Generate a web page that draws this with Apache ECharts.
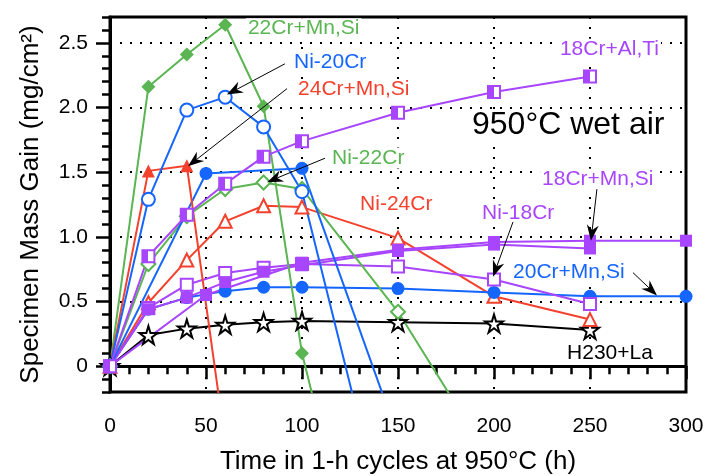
<!DOCTYPE html>
<html>
<head>
<meta charset="utf-8">
<script src="https://cdn.jsdelivr.net/npm/echarts@6/dist/echarts.min.js"></script>
<style>
  html, body { margin: 0; padding: 0; background: #fff; }
  #massChart { width: 707px; height: 476px; }
</style>
</head>
<body>
<div id="massChart"></div>
<script>
// [time (h), mass gain (mg/cm2)]; last points of the
// steep drop-offs lie below the axis and are clipped
const cr22MnSi = [[0, 0], [20, 2.16], [40, 2.41], [60, 2.64], [80, 2.01], [100, 0.10], [120, -1.1]]
const ni20Cr = [[0, 0], [20, 1.29], [40, 1.98], [60, 2.08], [80, 1.85], [100, 1.35], [150, -1.63]]
const cr24MnSi = [[0, 0], [20, 1.51], [40, 1.55], [60, -0.59]]
const ni22Cr = [[0, 0], [20, 0.79], [40, 1.16], [60, 1.37], [80, 1.42], [100, 1.37], [150, 0.42], [200, -0.77]]
const ni24Cr = [[0, 0], [20, 0.49], [40, 0.82], [60, 1.12], [80, 1.24], [100, 1.23], [150, 0.99], [200, 0.54], [250, 0.36]]
const cr18AlTi = [[0, 0], [20, 0.85], [40, 1.17], [60, 1.41], [80, 1.62], [100, 1.74], [150, 1.96], [200, 2.12], [250, 2.24]]
const cr18MnSi = [[0, 0], [20, 0.44], [40, 0.53], [60, 0.65], [80, 0.73], [100, 0.78], [150, 0.89], [200, 0.94], [250, 0.91]]
const cr18MnSiB = [[0, 0], [50, 0.55], [100, 0.80], [150, 0.90], [200, 0.96], [250, 0.97], [300, 0.97]]
const ni18Cr = [[0, 0], [20, 0.45], [40, 0.63], [60, 0.72], [80, 0.76], [100, 0.79], [150, 0.77], [200, 0.67], [250, 0.48]]
const cr20MnSiB = [[0, 0], [50, 1.49], [100, 1.53], [150, -0.55]]
const cr20MnSi = [[0, 0], [20, 0.44], [40, 0.53], [60, 0.58], [80, 0.61], [100, 0.61], [150, 0.60], [200, 0.57], [250, 0.54], [300, 0.54]]
const h230La = [[0, 0], [20, 0.24], [40, 0.29], [60, 0.32], [80, 0.34], [100, 0.35], [150, 0.34], [200, 0.33], [250, 0.28]]

const yTickValues = [0, 0.5, 1.0, 1.5, 2.0, 2.5]

const GREEN = '#5ab552'
const RED = '#f4412d'
const BLUE = '#1565ff'
const PURPLE = '#a845ff'
const FONT = '"Liberation Sans", Arial, sans-serif'
const STAR = 'path://M50,0 L61,35 L98,35 L68,57 L79,91 L50,70 L21,91 L32,57 L2,35 L39,35 Z'

const halfFill = {
  type: 'linear', x: 0, y: 0, x2: 1, y2: 0,
  colorStops: [
    { offset: 0, color: PURPLE }, { offset: 0.5, color: PURPLE },
    { offset: 0.5, color: '#fff' }, { offset: 1, color: '#fff' }
  ]
}

function mkSeries (name, data, color, symbol, size, fill) {
  return {
    name: name,
    type: 'line',
    data: data,
    symbol: symbol,
    symbolSize: size,
    clip: true,
    lineStyle: { color: color, width: 2 },
    itemStyle: { color: fill || color, borderColor: color, borderWidth: fill ? 2 : 0 },
    emphasis: { disabled: true }
  }
}

let chart = echarts.init(document.getElementById('massChart'))

let options = {
  animation: false,
  textStyle: { fontFamily: FONT },
  grid: {
    left: 110, right: 21, top: 17, bottom: 84,
    outerBoundsMode: 'none',
    show: true, borderColor: '#000', borderWidth: 3
  },
  xAxis: {
    type: 'value',
    min: 0,
    max: 300,
    interval: 50,
    name: 'Time in 1-h cycles at 950°C (h)',
    nameLocation: 'middle',
    nameGap: 57,
    nameTextStyle: { fontSize: 26, color: '#000' },
    axisLine: { lineStyle: { color: '#000', width: 3 } },
    axisTick: { length: 13, lineStyle: { color: '#000', width: 2.5 } },
    minorTick: { show: true, splitNumber: 5, length: 8, lineStyle: { color: '#000', width: 2.5 } },
    axisLabel: { fontSize: 21, color: '#000', margin: 24 },
    splitLine: { show: true, lineStyle: { color: '#000', width: 2, type: [2, 8] } }
  },
  yAxis: [
    {
      type: 'value',
      min: -0.2,
      max: 2.7,
      interval: 0.1,
      axisLine: { show: true, lineStyle: { color: '#000', width: 3 } },
      axisTick: { length: 8, lineStyle: { color: '#000', width: 2.5 } },
      axisLabel: { show: false },
      splitLine: { show: false }
    },
    {
      type: 'value',
      position: 'left',
      min: -0.2,
      max: 2.7,
      name: 'Specimen Mass Gain (mg/cm²)',
      nameLocation: 'middle',
      nameGap: 66,
      nameTextStyle: { fontSize: 26, color: '#000' },
      axisLine: { show: false },
      axisTick: { show: true, length: 14, customValues: yTickValues, lineStyle: { color: '#000', width: 2.5 } },
      axisLabel: {
        fontSize: 21,
        color: '#000',
        margin: 22,
        customValues: yTickValues,
        formatter: function (v) {
          if (Math.abs(v) < 1e-9) return '0'
          if (Math.abs(v + 0.2) < 1e-9 || Math.abs(v - 2.7) < 1e-9) return ''
          return v.toFixed(1)
        }
      },
      splitLine: { show: true, lineStyle: { color: '#000', width: 2, type: [2, 8] } }
    }
  ],
  series: [
    mkSeries('H230+La', h230La, '#000', STAR, 18, '#fff'),
    mkSeries('Ni-24Cr', ni24Cr, RED, 'triangle', 13, '#fff'),
    mkSeries('20Cr+Mn,Si', cr20MnSi, BLUE, 'circle', 13),
    mkSeries('Ni-18Cr', ni18Cr, PURPLE, 'rect', 12, '#fff'),
    mkSeries('18Cr+Mn,Si B', cr18MnSiB, PURPLE, 'rect', 12),
    mkSeries('18Cr+Mn,Si', cr18MnSi, PURPLE, 'rect', 12),
    mkSeries('Ni-22Cr', ni22Cr, GREEN, 'diamond', 14, '#fff'),
    mkSeries('20Cr+Mn,Si B', cr20MnSiB, BLUE, 'circle', 13),
    mkSeries('22Cr+Mn,Si', cr22MnSi, GREEN, 'diamond', 14),
    mkSeries('24Cr+Mn,Si', cr24MnSi, RED, 'triangle', 13),
    mkSeries('Ni-20Cr', ni20Cr, BLUE, 'circle', 13, '#fff'),
    mkSeries('18Cr+Al,Ti', cr18AlTi, PURPLE, 'rect', 12, halfFill)
  ]
}
chart.setOption(options)

// annotation text, anchored in data units (left edge, vertical middle)
const labels = [
  ['22Cr+Mn,Si', [70.8, 2.61], GREEN, 21],
  ['Ni-20Cr', [94.8, 2.35], BLUE, 21],
  ['24Cr+Mn,Si', [96.9, 2.14], RED, 21],
  ['18Cr+Al,Ti', [233.3, 2.45], PURPLE, 21],
  ['950°C wet air', [187.5, 1.86], '#000', 32],
  ['Ni-22Cr', [114.6, 1.61], GREEN, 21],
  ['Ni-24Cr', [129.2, 1.25], RED, 21],
  ['18Cr+Mn,Si', [224, 1.445], PURPLE, 21],
  ['Ni-18Cr', [192.7, 1.185], PURPLE, 21],
  ['20Cr+Mn,Si', [208.9, 0.73], BLUE, 21],
  ['H230+La', [237, 0.10], '#000', 21]
]
// arrows: [tail, tip] in data units
const arrows = [
  [[91.1, 2.338], [60.9, 2.10]],
  [[92.2, 2.146], [40.6, 1.546]],
  [[112, 1.608], [81.8, 1.423]],
  [[209.9, 1.115], [199.5, 0.692]],
  [[253.6, 1.369], [250.5, 0.969]],
  [[272.4, 0.723], [284.9, 0.546]]
]

const toPx = function (p) { return chart.convertToPixel({ seriesIndex: 0 }, p) }
let graphics = []
labels.forEach(function (l) {
  const p = toPx(l[1])
  graphics.push({
    type: 'text', x: p[0], y: p[1], z: 1,
    style: {
      text: l[0], fill: l[2], font: l[3] + 'px ' + FONT,
      align: 'left', verticalAlign: 'middle', backgroundColor: '#fff', padding: [0, 2]
    }
  })
})
arrows.forEach(function (a) {
  const p0 = toPx(a[0])
  const p1 = toPx(a[1])
  const dx = p1[0] - p0[0]
  const dy = p1[1] - p0[1]
  const L = Math.hypot(dx, dy)
  const ux = dx / L
  const uy = dy / L
  const nx = -uy
  const ny = ux
  const len = 16
  const half = 6
  const notch = 11
  const bx = p1[0] - ux * len
  const by = p1[1] - uy * len
  graphics.push({
    type: 'line', z: 5,
    shape: { x1: p0[0], y1: p0[1], x2: p1[0] - ux * notch, y2: p1[1] - uy * notch },
    style: { stroke: '#000', lineWidth: 1 }
  })
  graphics.push({
    type: 'polygon', z: 5,
    shape: { points: [p1, [bx + nx * half, by + ny * half], [p1[0] - ux * notch, p1[1] - uy * notch], [bx - nx * half, by - ny * half]] },
    style: { fill: '#000' }
  })
})
chart.setOption({ graphic: graphics })
</script>
</body>
</html>
